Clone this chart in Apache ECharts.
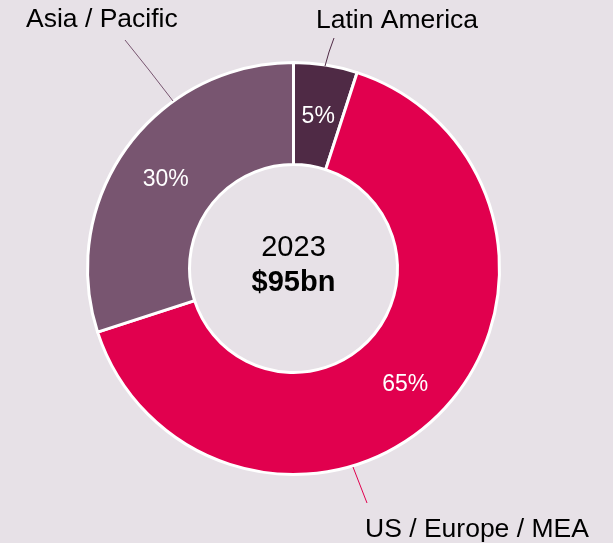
<!DOCTYPE html>
<html>
<head>
<meta charset="utf-8">
<script src="https://cdn.jsdelivr.net/npm/echarts@6/dist/echarts.min.js"></script>
<style>
html, body { margin: 0; padding: 0; background: #e7e1e7; }
#chart { width: 613px; height: 543px; }
</style>
</head>
<body>
<div id="chart"></div>
<script>
// market split by region, 2023
var regions = ['Latin America', 'US / Europe / MEA', 'Asia / Pacific'];
var shares = [5, 65, 30];
var centerYear = '2023';
var centerTotal = '$95bn';

var sliceColors = ['#4f2a45', '#e1004e', '#785570'];
var fontName = 'Liberation Sans, Arial, sans-serif';

// where the outside names sit, and their leader lines (from ring to text)
var labelSpots = [
    {x: 316, y: 21, line: [[325, 66], [329, 52], [334, 38]]},
    {x: 365, y: 530, line: [[353, 467], [360, 485], [367, 503]]},
    {x: 26, y: 20, line: [[173, 101], [149, 70], [125, 40]]}
];

var ringCenter = [293.5, 268.5];
var ringRadius = [104, 206];

var sliceData = regions.map(function(name, i) {
    return {name: name, value: shares[i], itemStyle: {color: sliceColors[i]}};
});

var nameData = regions.map(function(name, i) {
    return {name: name, value: shares[i], labelLine: {lineStyle: {color: sliceColors[i]}}};
});

var myChart = echarts.init(document.getElementById('chart'));

myChart.setOption({
    backgroundColor: '#e7e1e7',
    animation: false,
    graphic: [
        {
            type: 'text', x: ringCenter[0], y: 248,
            style: {
                text: centerYear, fill: '#000', font: '29px ' + fontName,
                textAlign: 'center', textVerticalAlign: 'middle', align: 'center', verticalAlign: 'middle'
            }
        },
        {
            type: 'text', x: ringCenter[0], y: 283,
            style: {
                text: centerTotal, fill: '#000', font: 'bold 29px ' + fontName,
                textAlign: 'center', textVerticalAlign: 'middle', align: 'center', verticalAlign: 'middle'
            }
        }
    ],
    series: [
        {
            type: 'pie',
            center: ringCenter,
            radius: ringRadius,
            startAngle: 90,
            silent: true,
            itemStyle: {borderColor: '#ffffff', borderWidth: 3},
            label: {
                show: true,
                position: 'inside',
                formatter: '{c}%',
                color: '#ffffff',
                fontFamily: fontName,
                fontSize: 23
            },
            labelLine: {show: false},
            labelLayout: {dy: 4},
            emphasis: {disabled: true},
            data: sliceData
        },
        {
            type: 'pie',
            center: ringCenter,
            radius: ringRadius,
            startAngle: 90,
            silent: true,
            z: 3,
            itemStyle: {color: 'transparent', borderWidth: 0},
            label: {
                show: true,
                position: 'outside',
                formatter: '{b}',
                color: '#000000',
                fontFamily: fontName,
                fontSize: 26.5,
                overflow: 'none',
                width: 300
            },
            labelLine: {show: true, lineStyle: {width: 1}},
            labelLayout: function(params) {
                var spot = labelSpots[params.dataIndex];
                return {
                    x: spot.x,
                    y: spot.y,
                    align: 'left',
                    verticalAlign: 'middle',
                    labelLinePoints: spot.line
                };
            },
            emphasis: {disabled: true},
            data: nameData
        }
    ]
});
</script>
</body>
</html>
